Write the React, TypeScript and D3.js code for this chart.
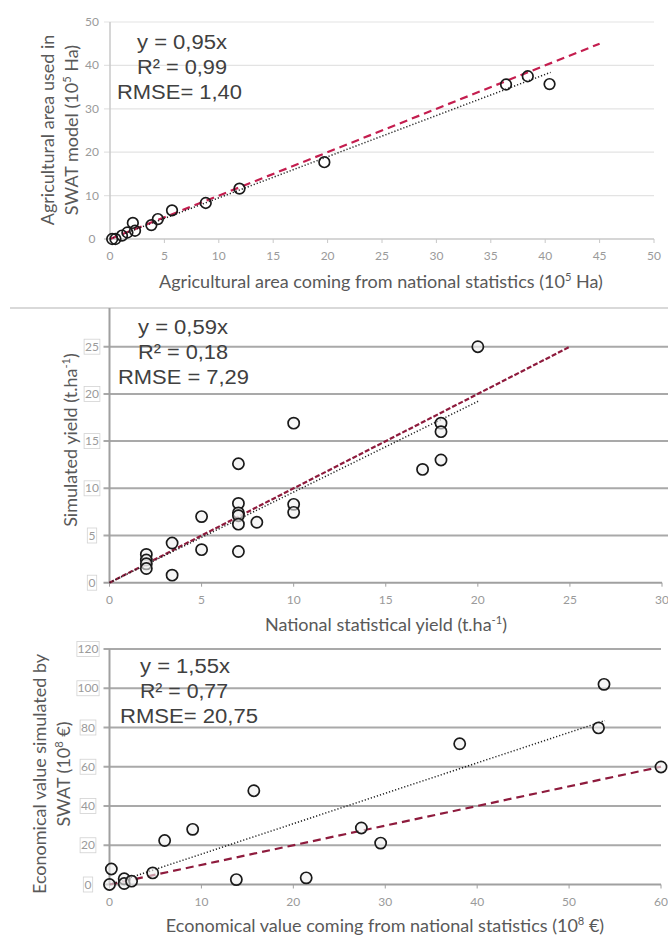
import React from "react";
import * as d3 from "d3";

// ---------- DATA ----------
// Panel 1: agricultural area (10^5 Ha)
const areaNational = [0.2, 0.5, 1.1, 1.6, 2.1, 2.3, 3.8, 4.4, 5.7, 8.8, 11.9, 19.7, 36.4, 38.4, 40.4];
const areaSwat = [0, 0, 0.8, 1.5, 3.7, 1.9, 3.2, 4.6, 6.6, 8.3, 11.6, 17.7, 35.6, 37.5, 35.7];
const areaRefX = [0, 45];
const areaFitX = [0, 40.5];
const areaFitY = [0, 38.4];
const areaTicksX = [0, 5, 10, 15, 20, 25, 30, 35, 40, 45, 50];
const areaTicksY = [0, 10, 20, 30, 40, 50];
const areaStats = ["y = 0,95x", "R² = 0,99", "RMSE= 1,40"];

// Panel 2: yield (t.ha-1)
const yieldNational = [2, 2, 2, 2, 3.4, 3.4, 5, 5, 7, 7, 7, 7, 7, 7, 8, 10, 10, 10, 17, 18, 18, 18, 20];
const yieldSim = [3.0, 2.4, 2.0, 1.5, 4.2, 0.8, 7.0, 3.5, 12.6, 8.4, 7.4, 7.1, 6.2, 3.3, 6.4, 16.9, 8.3, 7.45, 12.0, 16.9, 16.0, 13.0, 25];
const yieldRefX = [0, 25];
const yieldFitX = [0, 20.1];
const yieldFitY = [0, 19.3];
const yieldTicksX = [0, 5, 10, 15, 20, 25, 30];
const yieldTicksY = [0, 5, 10, 15, 20, 25];
const yieldStats = ["y = 0,59x", "R² = 0,18", "RMSE = 7,29"];

// Panel 3: economical value (10^8 €)
const ecoNational = [0.2, 0, 1.6, 1.6, 2.4, 4.7, 6.0, 9.05, 13.8, 15.7, 21.4, 27.4, 29.5, 38.1, 53.2, 53.8, 60];
const ecoSwat = [7.9, 0, 2.9, 0.5, 1.7, 5.9, 22.4, 28.1, 2.5, 47.8, 3.4, 28.8, 21.1, 71.7, 79.8, 102, 59.9];
const ecoRefX = [0, 60];
const ecoFitX = [0, 53.9];
const ecoFitY = [0, 83.5];
const ecoTicksX = [0, 10, 20, 30, 40, 50, 60];
const ecoTicksY = [0, 20, 40, 60, 80, 100, 120];
const ecoStats = ["y = 1,55x", "R² = 0,77", "RMSE= 20,75"];

const LATO = "Lato, 'Open Sans', sans-serif";
const ARIAL = "'Liberation Sans', Arial, sans-serif";

type Sup = { main: string; sup: string; tail: string };

function SupText(props: { x: number; y: number; t: Sup; size: number; fill: string; rotate?: boolean }) {
  const { x, y, t, size, fill, rotate } = props;
  return (
    <text
      x={rotate ? 0 : x}
      y={rotate ? 0 : y}
      transform={rotate ? `translate(${x},${y}) rotate(-90)` : undefined}
      textAnchor="middle"
      fontFamily={LATO}
      fontSize={size}
      fill={fill}
    >
      {t.main}
      <tspan fontSize={size * 0.62} dy={-size * 0.4}>{t.sup}</tspan>
      <tspan dy={size * 0.4}>{t.tail}</tspan>
    </text>
  );
}

function Panel(props: {
  xs: number[]; ys: number[];
  xDom: number[]; yDom: number[]; xRange: number[]; yRange: number[];
  ticksX: number[]; ticksY: number[];
  refX: number[]; fitX: number[]; fitY: number[];
  stats: string[]; statX: number; statY0: number; statWidths: number[];
  variant: number;
}) {
  const p = props;
  const x = d3.scaleLinear().domain(p.xDom).range(p.xRange);
  const y = d3.scaleLinear().domain(p.yDom).range(p.yRange);
  const line = d3.line<[number, number]>().x((d) => x(d[0])).y((d) => y(d[1]));
  const heavy = p.variant !== 1;
  const gridColor = heavy ? "#a9a9a9" : "#e3e3e3";
  const gridW = heavy ? 2 : 1.2;
  const x0 = p.xRange[0];
  const x1 = p.xRange[1];
  const gridRight = p.variant === 2 ? 668 : x1;
  const red = p.variant === 1 ? "#c41e4f" : "#8e1b3d";
  const dash = p.variant === 2 ? "5,2" : "8,5";
  const tickFill = "#9a9a9a";
  const yAxisBottom = y(p.yDom[0]);
  const yTop = y(p.yDom[1]);
  return (
    <g>
      {p.ticksY.filter((t) => t > 0).map((t) => (
        <line key={"g" + t} x1={x0 - 6} x2={gridRight} y1={y(t)} y2={y(t)} stroke={gridColor} strokeWidth={gridW} />
      ))}
      <line x1={x0} x2={x0} y1={yAxisBottom} y2={p.variant === 2 ? 308 : yTop} stroke={heavy ? "#a0a0a0" : "#c8c8c8"} strokeWidth={heavy ? 2 : 1.5} />
      <line x1={x0 - 6} x2={x1} y1={yAxisBottom} y2={yAxisBottom} stroke={heavy ? "#a0a0a0" : "#c8c8c8"} strokeWidth={heavy ? 2 : 1.5} />
      {p.ticksX.map((t) => (
        <line key={"xt" + t} x1={x(t)} x2={x(t)} y1={yAxisBottom} y2={yAxisBottom + 4} stroke={heavy ? "#a0a0a0" : "#c8c8c8"} strokeWidth={1} />
      ))}
      {p.ticksX.map((t) => (
        <text key={"xl" + t} x={x(t)} y={yAxisBottom + 21} textAnchor="middle" fontFamily={LATO} fontSize={12} fill={tickFill}>{t}</text>
      ))}
      {p.ticksY.map((t) => {
        const s = String(t);
        const cx = p.variant === 3 ? 88 : 92;
        const w = s.length * 6.4 + 3;
        return (
          <g key={"yl" + t}>
            {heavy && (
              <rect x={cx - w / 2} y={y(t) - 7.5} width={w} height={15} fill="white" stroke="#d2d2d2" strokeWidth={0.8} />
            )}
            <text x={cx} y={y(t) + 4} textAnchor="middle" fontFamily={LATO} fontSize={12} fill={tickFill}>{s}</text>
          </g>
        );
      })}
      <path d={line(p.refX.map((v) => [v, v] as [number, number])) || ""} fill="none" stroke={red} strokeWidth={2.2} strokeDasharray={dash} />
      <path d={line(p.fitX.map((v, i) => [v, p.fitY[i]] as [number, number])) || ""} fill="none" stroke="#222" strokeWidth={1.5} strokeDasharray="1.2,2" />
      {p.xs.map((v, i) => (
        <circle key={"c" + i} cx={x(v)} cy={y(p.ys[i])} r={p.variant === 1 ? 5.3 : 5.6} fill={p.variant === 1 ? "none" : "rgba(240,240,240,0.6)"} stroke="#1a1a1a" strokeWidth={1.7} />
      ))}
      {p.stats.map((s, i) => (
        <text key={"s" + i} x={i === 2 ? p.statX - 20 : p.statX} y={p.statY0 + i * 25} fontFamily={ARIAL} fontSize={20} fill="#404040" textLength={p.statWidths[i]} lengthAdjust="spacingAndGlyphs">{s}</text>
      ))}
    </g>
  );
}

export default function App() {
  return (
    <svg width={668} height={936} style={{ position: "absolute", left: 0, top: 0, background: "white" }}>
      <rect width={668} height={936} fill="white" />
      <line x1={10} x2={668} y1={308} y2={308} stroke="#b4b4b4" strokeWidth={1.2} />
      <Panel
        xs={areaNational} ys={areaSwat}
        xDom={[0, 50]} yDom={[0, 50]} xRange={[110, 654]} yRange={[239, 22]}
        ticksX={areaTicksX} ticksY={areaTicksY}
        refX={areaRefX} fitX={areaFitX} fitY={areaFitY}
        stats={areaStats} statX={137} statY0={49} statWidths={[90, 90, 125]} variant={1}
      />
      <Panel
        xs={yieldNational} ys={yieldSim}
        xDom={[0, 30]} yDom={[0, 25]} xRange={[109.5, 662]} yRange={[582.7, 346.7]}
        ticksX={yieldTicksX} ticksY={yieldTicksY}
        refX={yieldRefX} fitX={yieldFitX} fitY={yieldFitY}
        stats={yieldStats} statX={138} statY0={334} statWidths={[90, 90, 131]} variant={2}
      />
      <Panel
        xs={ecoNational} ys={ecoSwat}
        xDom={[0, 60]} yDom={[0, 120]} xRange={[109.5, 661]} yRange={[884.5, 649]}
        ticksX={ecoTicksX} ticksY={ecoTicksY}
        refX={ecoRefX} fitX={ecoFitX} fitY={ecoFitY}
        stats={ecoStats} statX={140} statY0={673} statWidths={[90, 88, 138]} variant={3}
      />
      <SupText x={381} y={288} t={{ main: "Agricultural area coming from national statistics (10", sup: "5", tail: " Ha)" }} size={18} fill="#595959" />
      <SupText x={386} y={631} t={{ main: "National statistical yield (t.ha", sup: "-1", tail: ")" }} size={18} fill="#595959" />
      <SupText x={385} y={932} t={{ main: "Economical value coming from national statistics (10", sup: "8", tail: " €)" }} size={18} fill="#595959" />
      <text transform="translate(54,130) rotate(-90)" textAnchor="middle" fontFamily={LATO} fontSize={18} fill="#595959">Agricultural area used in</text>
      <SupText x={78} y={130} rotate t={{ main: "SWAT model (10", sup: "5", tail: " Ha)" }} size={18} fill="#595959" />
      <SupText x={77} y={440} rotate t={{ main: "Simulated yield (t.ha", sup: "-1", tail: ")" }} size={18} fill="#595959" />
      <text transform="translate(46,774) rotate(-90)" textAnchor="middle" fontFamily={LATO} fontSize={18} fill="#595959">Economical value simulated by</text>
      <SupText x={70} y={774} rotate t={{ main: "SWAT (10", sup: "8", tail: " €)" }} size={18} fill="#595959" />
    </svg>
  );
}
